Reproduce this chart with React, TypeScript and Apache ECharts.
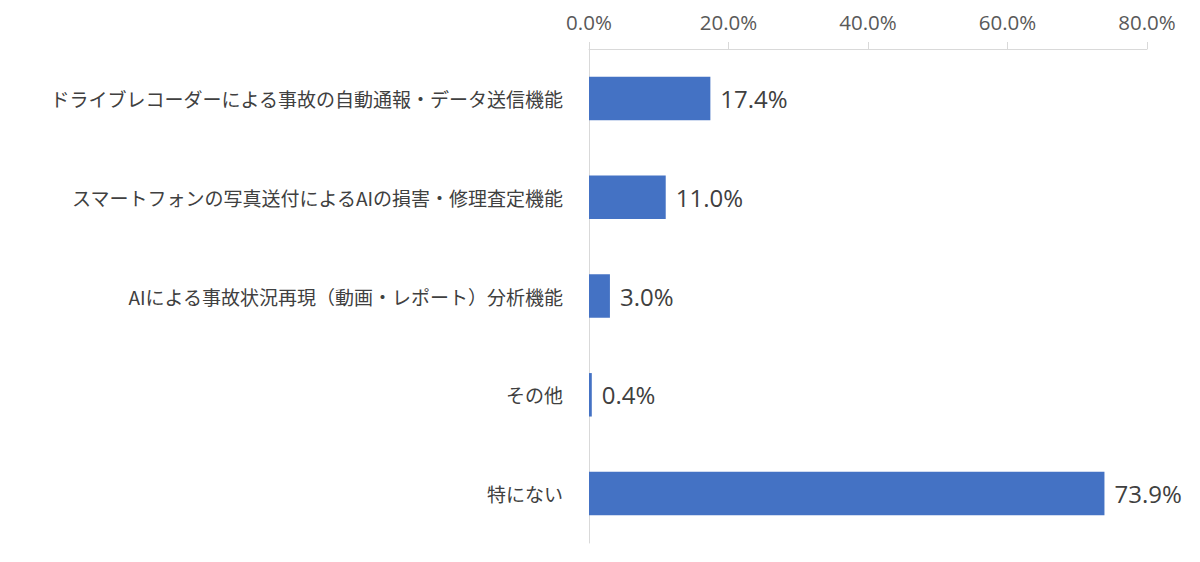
import * as echarts from "echarts";
import { useEffect, useRef } from "react";

const categories = [
  "ドライブレコーダーによる事故の自動通報・データ送信機能",
  "スマートフォンの写真送付によるAIの損害・修理査定機能",
  "AIによる事故状況再現（動画・レポート）分析機能",
  "その他",
  "特にない",
];
const values = [17.4, 11.0, 3.0, 0.4, 73.9];
const tickValues = [0, 20, 40, 60, 80];

const jpFont = "'Noto Sans CJK JP', 'Noto Sans', sans-serif";
const numFont = "'Open Sans', 'Noto Sans', sans-serif";

const App = () => {
  const chartRef = useRef<HTMLDivElement>(null);

  useEffect(() => {
    if (!chartRef.current) return;
    const myChart = echarts.init(chartRef.current, null, { renderer: "svg" });

    const option = {
      animation: false,
      backgroundColor: "#ffffff",
      grid: { left: 589, right: 53, top: 49, bottom: 19 },
      xAxis: {
        type: "value",
        position: "top",
        min: tickValues[0],
        max: tickValues[tickValues.length - 1],
        interval: 20,
        axisLine: { show: true, lineStyle: { color: "#d9d9d9", width: 1 } },
        axisTick: { show: true, length: 7, lineStyle: { color: "#d9d9d9" } },
        splitLine: { show: false },
        axisLabel: {
          margin: 17,
          color: "#595959",
          fontSize: 20.5,
          fontFamily: numFont,
          formatter: (v: number) => v.toFixed(1) + "%",
        },
      },
      yAxis: {
        type: "category",
        inverse: true,
        data: categories,
        axisLine: { show: true, lineStyle: { color: "#d9d9d9", width: 1 } },
        axisTick: { show: false },
        axisLabel: {
          margin: 26,
          color: "#404040",
          fontSize: 19,
          fontFamily: jpFont,
        },
      },
      series: [
        {
          type: "bar",
          data: values,
          barWidth: "44%",
          itemStyle: { color: "#4472c4" },
          label: {
            show: true,
            position: "right",
            distance: 10,
            color: "#404040",
            fontSize: 24,
            fontFamily: numFont,
            formatter: (p: { value: number }) => p.value.toFixed(1) + "%",
          },
        },
      ],
    };

    myChart.setOption(option);

    return () => {
      myChart.dispose();
    };
  }, []);

  return <div ref={chartRef} style={{ width: 1200, height: 562, margin: -8 }} />;
};

export default App;
